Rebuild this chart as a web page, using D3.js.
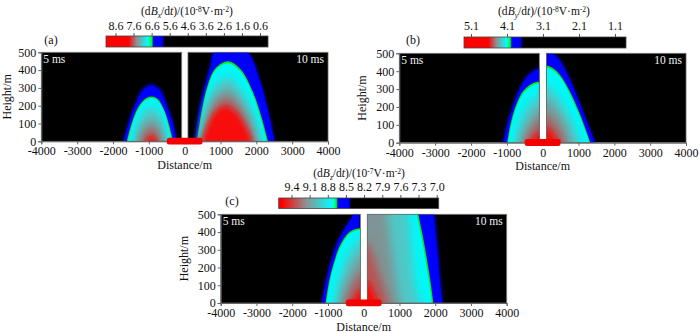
<!DOCTYPE html>
<html><head><meta charset="utf-8">
<script src="https://cdn.jsdelivr.net/npm/d3@7/dist/d3.min.js"></script>
<style>
html,body{margin:0;padding:0;background:#fff}
svg{display:block}
text{font-family:"Liberation Serif",serif;fill:#111}
</style></head><body>
<svg id="c" width="700" height="333"></svg>
<script>
// Values
const distanceTicks = [-4000,-3000,-2000,-1000,0,1000,2000,3000,4000];
const heightTicks = [0,100,200,300,400,500];
const transmitter = [-500,500];
const levelColors = ["#0000a8","#0000ff","#00f000","#00f8f8","#50c8c8","#7f9494","#b85252","#f81010"];
const scaleStops = [[0,"#ff0000"],[1,"#ff0000"],[2,"#909090"],[3,"#00ffff"],[4,"#00ff00"],[5,"#0000ff"],[6,"#0000ff"],[7,"#000000"],[8,"#000000"]];

const ticksA = [8.6,7.6,6.6,5.6,4.6,3.6,2.6,1.6,0.6];
const ticksB = [5.1,4.1,3.1,2.1,1.1];
const ticksC = [9.4,9.1,8.8,8.5,8.2,7.9,7.6,7.3,7.0];
const stopOffsetsA = [0,.138,.19,.26,.283,.293,.345,.365,1];
const stopOffsetsB = [0,.15,.20,.265,.285,.295,.346,.367,1];
const stopOffsetsC = [0,.02,.17,.34,.36,.37,.435,.455,1];

// contours [distance, height], outermost level first
const a5 = [
 [[-1730,0],[-1590,100],[-1420,200],[-1190,295],[-930,325],[-670,295],[-470,200],[-300,100],[-200,0]],
 [[-1700,0],[-1560,100],[-1390,195],[-1170,283],[-930,310],[-690,283],[-490,192],[-330,100],[-230,0]],
 [[-1615,0],[-1480,100],[-1300,190],[-1110,238],[-930,252],[-750,238],[-560,170],[-420,80],[-325,0]],
 [[-1585,0],[-1455,100],[-1280,185],[-1100,230],[-930,243],[-760,230],[-570,165],[-440,75],[-350,0]],
 [[-1430,0],[-1300,95],[-1130,170],[-930,195],[-730,165],[-590,90],[-480,0]],
 [[-1300,0],[-1170,80],[-930,125],[-700,80],[-590,0]],
 [[-1200,0],[-1080,50],[-930,75],[-790,50],[-680,0]],
 [[-1100,0],[-1000,20],[-930,30],[-860,20],[-780,0]]
];
const a10 = [
 [[270,0],[350,130],[475,260],[707,430],[800,500],[1280,560],[1790,500],[2100,355],[2350,170],[2530,0]],
 [[295,0],[380,130],[505,258],[730,423],[822,495],[1280,550],[1770,495],[2080,348],[2325,167],[2505,0]],
 [[345,0],[440,130],[620,300],[860,410],[1210,450],[1560,405],[1900,280],[2160,125],[2325,0]],
 [[370,0],[465,130],[640,295],[875,403],[1210,438],[1550,395],[1885,272],[2135,120],[2295,0]],
 [[440,0],[540,130],[740,270],[1200,365],[1620,270],[1950,130],[2130,0]],
 [[470,0],[600,130],[830,240],[1180,295],[1520,230],[1830,120],[2010,0]],
 [[480,0],[640,100],[880,200],[1170,240],[1480,190],[1750,90],[1920,0]],
 [[490,0],[660,95],[890,170],[1170,195],[1440,160],[1710,80],[1870,0]]
];
const b5 = [
 [[-1120,0],[-1010,100],[-860,200],[-650,310],[-400,385],[-93,425],[300,450]],
 [[-1090,0],[-985,100],[-835,200],[-630,303],[-388,375],[-93,412],[300,430]],
 [[-990,0],[-900,100],[-760,200],[-540,290],[-300,330],[-93,342],[300,345]],
 [[-965,0],[-875,100],[-735,197],[-520,282],[-285,322],[-93,333],[300,336]],
 [[-760,0],[-660,90],[-500,180],[-300,235],[-93,265],[300,270]],
 [[-620,0],[-500,70],[-300,140],[-93,185],[300,190]],
 [[-500,0],[-380,45],[-220,90],[-93,120],[300,125]],
 [[-350,0],[-250,25],[-93,55],[300,60]]
];
const b10 = [
 [[-300,515],[110,515],[300,505],[483,470],[750,370],[1000,250],[1270,110],[1490,0]],
 [[-300,505],[110,505],[300,490],[483,455],[740,358],[990,242],[1255,105],[1460,0]],
 [[-300,435],[110,432],[300,415],[500,375],[750,290],[1000,180],[1200,75],[1330,0]],
 [[-300,424],[110,421],[300,404],[495,364],[740,280],[985,172],[1185,70],[1305,0]],
 [[-300,320],[110,320],[350,280],[600,200],[850,100],[1040,0]],
 [[-300,240],[110,235],[350,190],[600,110],[800,0]],
 [[-300,150],[110,145],[300,110],[500,50],[620,0]],
 [[-300,90],[110,85],[280,50],[430,0]]
];
const c5 = [
 [[-1190,0],[-1080,120],[-900,260],[-700,370],[-475,445],[-300,500],[-150,580]],
 [[-1165,0],[-1055,120],[-875,260],[-675,363],[-450,442],[-275,500],[-120,570]],
 [[-1065,0],[-960,130],[-800,250],[-660,325],[-400,400],[-150,420],[300,425]],
 [[-1040,0],[-935,130],[-782,245],[-642,318],[-388,392],[-150,412],[300,417]],
 [[-800,0],[-720,100],[-560,210],[-350,300],[-93,360],[300,370]],
 [[-650,0],[-560,80],[-380,170],[-93,260],[300,265]],
 [[-500,0],[-400,60],[-250,110],[-93,160],[300,165]],
 [[-350,0],[-250,30],[-93,70],[300,75]]
];
const c10 = [
 [[-300,700],[1950,600],[2000,500],[2100,290],[2180,100],[2235,0]],
 [[-300,700],[1900,570],[1950,500],[2050,295],[2140,100],[2190,0]],
 [[-300,700],[1480,560],[1530,500],[1680,350],[1855,140],[1950,0]],
 [[-300,700],[1440,560],[1490,500],[1640,345],[1815,138],[1910,0]],
 [[-300,700],[1200,560],[1250,500],[1350,300],[1450,100],[1600,0]],
 [[-300,700],[620,560],[660,500],[780,300],[900,130],[1020,0]],
 [[-300,340],[100,330],[300,240],[500,120],[700,0]],
 [[-300,130],[100,120],[250,70],[400,0]]
];

const panels = [
 {id:"a",tag:"(a)",sub:"x",exp:"-8",left:a5,right:a10,gap:[-83,93],
  frame:[41.3,328,52.3,141.3],ylab:11,
  bar:[106,268,36,47],barT:[115.5,260],ticks:ticksA,offs:stopOffsetsA,tagX:51,tagY:44,titleX:187,titleY:15,tickY:30},
 {id:"b",tag:"(b)",sub:"y",exp:"-8",left:b5,right:b10,gap:[-93,110],
  frame:[399.3,686,53.3,142.7],ylab:366,
  bar:[464,626,37,48],barT:[471,615],ticks:ticksB,offs:stopOffsetsB,tagX:413,tagY:44,titleX:544,titleY:15,tickY:30},
 {id:"c",tag:"(c)",sub:"z",exp:"-7",left:c5,right:c10,gap:[-93,100],
  frame:[220.7,506.7,214.3,303],ylab:188,
  bar:[278.7,438.7,198,208.5],barT:[291.5,436.7],ticks:ticksC,offs:stopOffsetsC,tagX:232,tagY:205,titleX:359,titleY:177,tickY:191}
];

const svg = d3.select("#c");
const defs = svg.append("defs");
const blurs = [1,0.6,0.3,0.5,4,5,4.5,2.5];
blurs.forEach((s,i)=>defs.append("filter").attr("id","bl"+i)
  .attr("x","-30%").attr("y","-30%").attr("width","160%").attr("height","160%")
  .append("feGaussianBlur").attr("stdDeviation",s));

panels.forEach(p=>{
  const [x0,x1,y0,y1]=p.frame;
  const x=d3.scaleLinear().domain([-4000,4000]).range([x0,x1]);
  const y=d3.scaleLinear().domain([0,500]).range([y1,y0]);
  const g=svg.append("g");
  const line=d3.line().x(d=>x(d[0])).y(d=>y(d[1])).curve(d3.curveCatmullRom.alpha(0.5));

  const half=(name,dom,contours)=>{
    const cid="clip"+p.id+name;
    const rx=x(dom[0]),rw=x(dom[1])-x(dom[0]);
    defs.append("clipPath").attr("id",cid).append("rect")
      .attr("x",rx).attr("y",y0).attr("width",rw).attr("height",y1-y0);
    const h=g.append("g").attr("clip-path",`url(#${cid})`);
    h.append("rect").attr("x",rx).attr("y",y0).attr("width",rw).attr("height",y1-y0).attr("fill","#000");
    contours.forEach((pts,i)=>{
      const first=pts[0],last=pts[pts.length-1];
      const bottom=y(-150);
      const d=line(pts)+`L${x(last[0])},${bottom}L${x(first[0])},${bottom}Z`;
      h.append("path").attr("d",d).attr("fill",levelColors[i]).attr("filter",`url(#bl${i})`);
    });
    g.append("rect").attr("x",rx).attr("y",y0).attr("width",rw).attr("height",y1-y0)
      .attr("fill","none").attr("stroke","#666").attr("stroke-width",0.8);
  };
  half("L",[-4000,p.gap[0]],p.left);
  half("R",[p.gap[1],4000],p.right);

  // axes
  const ax=g.append("g").attr("transform",`translate(0,${y1})`)
    .call(d3.axisBottom(x).tickValues(distanceTicks).tickSize(3).tickPadding(2.5).tickFormat(d3.format("d")));
  const ay=g.append("g").attr("transform",`translate(${x0},0)`)
    .call(d3.axisLeft(y).tickValues(heightTicks).tickSize(3).tickPadding(2));
  [ax,ay].forEach(s=>{
    s.selectAll("path,line").attr("stroke","#666");
    s.selectAll("text").attr("font-family","Liberation Serif").attr("font-size",12).attr("fill","#111");
  });
  ax.selectAll("text").text(d=>d<0?"-"+(-d):d);

  // transmitter loop
  g.append("rect").attr("x",x(transmitter[0])).attr("width",x(transmitter[1])-x(transmitter[0]))
    .attr("y",y1-3.6).attr("height",6.8).attr("rx",2.5).attr("fill","#f40000");

  g.append("text").attr("x",x0+2).attr("y",y0+11).attr("font-size",11.5).style("fill","#f0f0f0").text("5 ms");
  g.append("text").attr("x",x1-4).attr("y",y0+11).attr("text-anchor","end").attr("font-size",11.5).style("fill","#f0f0f0").text("10 ms");
  g.append("text").attr("x",(x0+x1)/2).attr("y",y1+27.5).attr("text-anchor","middle").attr("font-size",12).text("Distance/m");
  g.append("text").attr("transform",`translate(${p.ylab},${(y0+y1)/2}) rotate(-90)`).attr("text-anchor","middle").attr("font-size",12).text("Height/m");
  g.append("text").attr("x",p.tagX).attr("y",p.tagY).attr("text-anchor","middle").attr("font-size",12).text(p.tag);

  // colour bar
  const [bx0,bx1,by0,by1]=p.bar;
  const gid="grad"+p.id;
  const lg=defs.append("linearGradient").attr("id",gid);
  scaleStops.forEach((s,i)=>lg.append("stop").attr("offset",p.offs[s[0]]).attr("stop-color",s[1]));
  g.append("rect").attr("x",bx0).attr("y",by0).attr("width",bx1-bx0).attr("height",by1-by0)
    .attr("fill",`url(#${gid})`).attr("stroke","#444").attr("stroke-width",0.8);
  const t=d3.scaleLinear().domain([p.ticks[0],p.ticks[p.ticks.length-1]]).range(p.barT);
  const at=g.append("g").attr("transform",`translate(0,${by0})`)
    .call(d3.axisTop(t).tickValues(p.ticks).tickSize(3).tickPadding(1).tickFormat(d3.format(".1f")));
  at.select("path").remove();
  at.selectAll("line").attr("stroke","#555");
  at.selectAll("text").attr("font-family","Liberation Serif").attr("font-size",12).attr("fill","#111")
    .attr("y",p.tickY-by0).attr("dy",null);

  // title
  const tt=g.append("text").attr("x",p.titleX).attr("y",p.titleY).attr("text-anchor","middle").attr("font-size",11.5);
  tt.append("tspan").text("(d");
  tt.append("tspan").attr("font-style","italic").text("B");
  tt.append("tspan").attr("font-size",7.5).attr("font-style","italic").attr("dy",2.5).text(p.sub);
  tt.append("tspan").attr("dy",-2.5).text("/d");
  tt.append("tspan").attr("font-style","italic").text("t");
  tt.append("tspan").text(")/(10");
  tt.append("tspan").attr("font-size",7.5).attr("dy",-3.5).text(p.exp);
  tt.append("tspan").attr("dy",3.5).text("V·m");
  tt.append("tspan").attr("font-size",7.5).attr("dy",-3.5).text("-2");
  tt.append("tspan").attr("dy",3.5).text(")");
});
</script>
</body></html>
